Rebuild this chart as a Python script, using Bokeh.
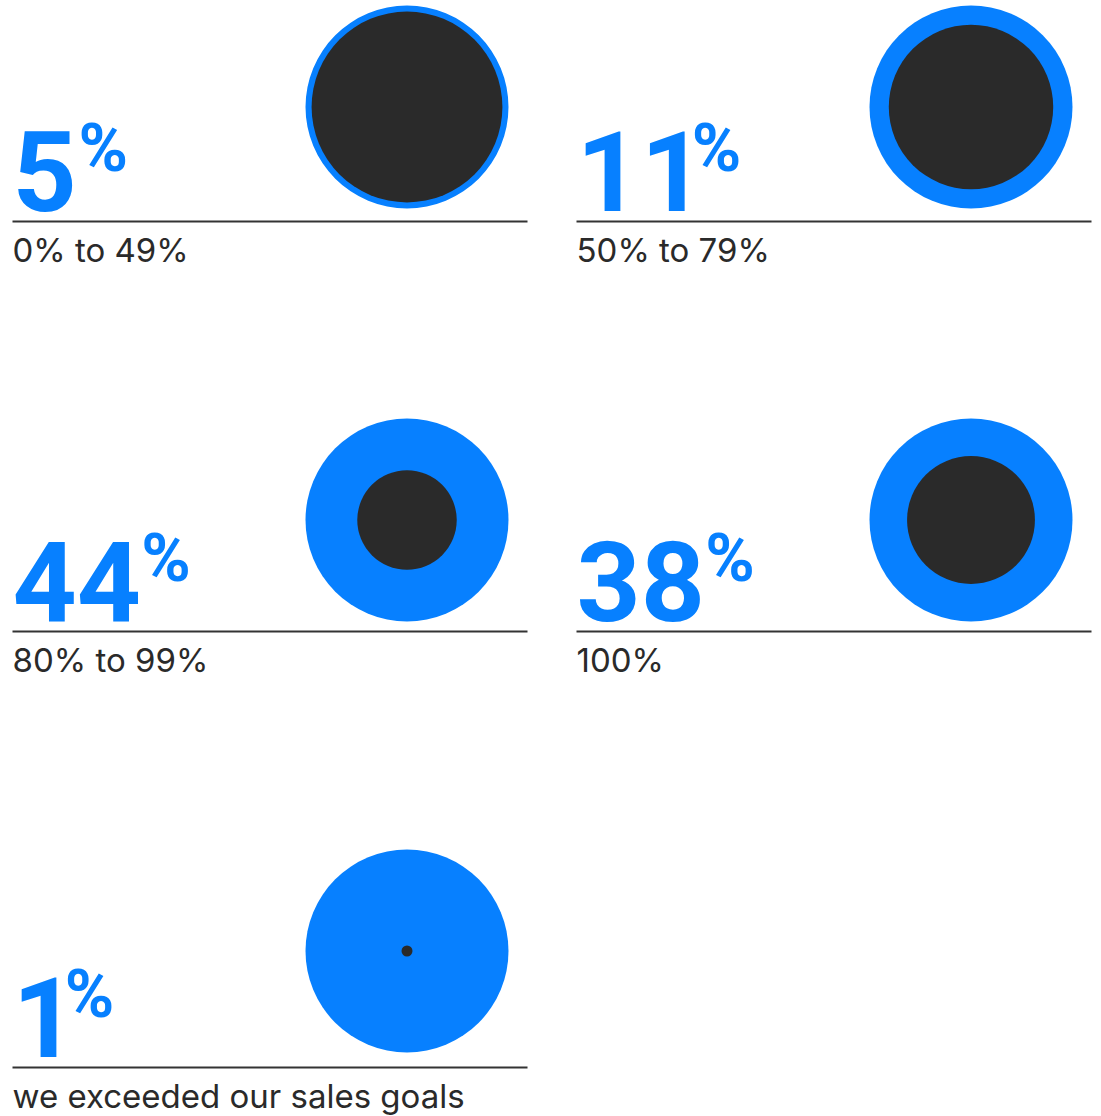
from bokeh.plotting import figure
from bokeh.models import Range1d, ColumnDataSource
from bokeh.core.properties import value
from bokeh.embed import file_html
from bokeh.resources import INLINE

# ---- data ----
categories = ["0% to 49%", "50% to 79%", "80% to 99%", "100%", "we exceeded our sales goals"]
shares = [5, 11, 44, 38, 1]                     # big numbers (percent of respondents)
inner_ratio = [0.94, 0.81, 0.49, 0.63, 0.054]   # dark inner circle size relative to blue circle

# ---- layout (picture pixel coordinates) ----
col_x = [12, 576]
row_line_y = [221, 631, 1067]
row_circle_y = [106.5, 519.5, 950.5]
panel_col = [0, 1, 0, 1, 0]
panel_row = [0, 0, 1, 1, 2]
line_len = 515
circle_dx = 394.5
outer_r = 101.5

BLUE = "#0780ff"
DARK = "#2a2a2a"
LINE = "#333333"

num_size = 112
pct_size = 67
lab_size = 33
BASE_FIX = 0.365   # baseline correction (em) for the svg text renderer


def num_width(t):
    # tabular digit advance for all but the last digit, visual ink end for the last one
    return ((len(t) - 1) * 0.5615 + (0.44 if t[-1] == "1" else 0.5615)) * num_size


x0 = [col_x[c] for c in panel_col]
ly = [row_line_y[r] for r in panel_row]
cy = [row_circle_y[r] for r in panel_row]
cx = [x + circle_dx for x in x0]
num_txt = [str(s) for s in shares]
pct_x = [x + num_width(t) + 3 for x, t in zip(x0, num_txt)]

src = ColumnDataSource(dict(
    x0=x0, x1=[x + line_len for x in x0], ly=ly,
    cx=cx, cy=cy,
    r_out=[outer_r] * len(shares),
    r_in=[outer_r * f for f in inner_ratio],
    num=num_txt, num_y=[y - 10 - BASE_FIX * num_size for y in ly],
    pct=["%"] * len(shares), pct_x=pct_x,
    pct_y=[y - 49 - BASE_FIX * pct_size for y in ly],
    label=categories, lab_y=[y + 41 - BASE_FIX * lab_size for y in ly],
))

W, H = 1101, 1116
p = figure(width=W, height=H, output_backend="svg", toolbar_location=None,
           x_range=Range1d(0, W), y_range=Range1d(H, 0),
           x_axis_location=None, y_axis_location=None, min_border=0)
p.grid.visible = False
p.outline_line_color = None
p.background_fill_color = "white"
p.border_fill_color = "white"

p.circle(x="cx", y="cy", radius="r_out", source=src, fill_color=BLUE, line_color=None)
p.circle(x="cx", y="cy", radius="r_in", source=src, fill_color=DARK, line_color=None)

p.segment(x0="x0", x1="x1", y0="ly", y1="ly", source=src, line_color=LINE, line_width=2)

p.text(x="x0", y="num_y", text="num", source=src, text_font=value("Roboto"),
       text_font_style="bold", text_font_size=f"{num_size}px", text_color=BLUE,
       text_align="left", text_baseline="alphabetic")
p.text(x="pct_x", y="pct_y", text="pct", source=src, text_font=value("Roboto"),
       text_font_style="bold", text_font_size=f"{pct_size}px", text_color=BLUE,
       text_align="left", text_baseline="alphabetic")
p.text(x="x0", y="lab_y", text="label", source=src, text_font=value("Inter"),
       text_font_size=f"{lab_size}px", text_color=DARK,
       text_align="left", text_baseline="alphabetic")

open("out.html", "w").write(file_html(p, INLINE))
